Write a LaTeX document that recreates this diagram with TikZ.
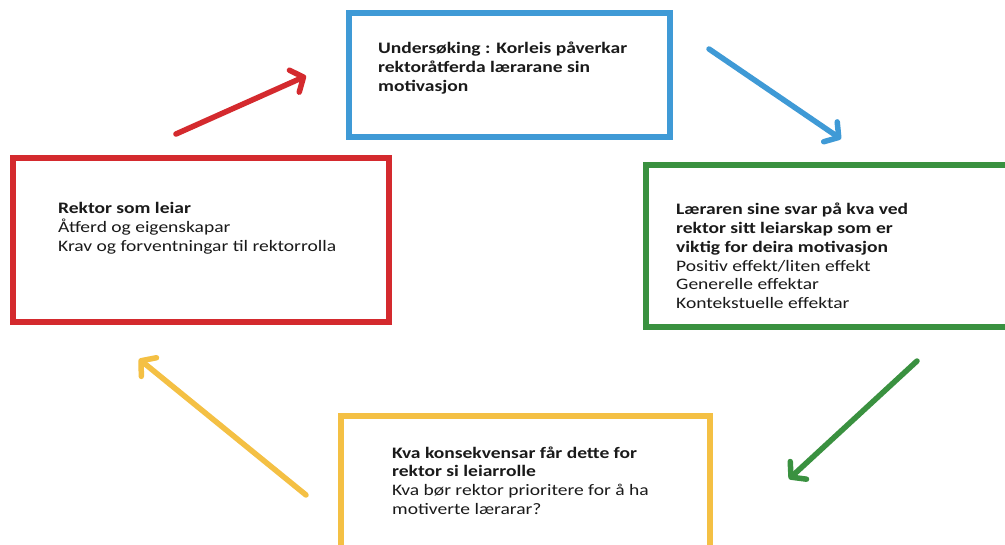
\documentclass[tikz,border=0pt]{standalone}
\usepackage{fontspec}
\setmainfont[FakeStretch=1.22]{Carlito}
\usetikzlibrary{arrows.meta}
\definecolor{cblue}{HTML}{3F9AD6}
\definecolor{cred}{HTML}{D42A2E}
\definecolor{cgreen}{HTML}{3A9140}
\definecolor{cyellow}{HTML}{F4C044}
\definecolor{ctext}{HTML}{1A1A1A}
\begin{document}
\begin{tikzpicture}[x=1pt,y=-1pt,
  framebox/.style={draw=#1, line width=6pt, rectangle, inner sep=0pt},
  boxtext/.style={anchor=base west, inner sep=0pt, align=left, text=ctext,
    font=\fontsize{16}{18.7}\selectfont},
  flow/.style={draw=#1, line width=5.5pt, line cap=round,
    -{Straight Barb[length=10pt, width=24pt, line width=5.5pt, round]}}]
  \clip (0,0) rectangle (1005,545);
  \fill[white] (0,0) rectangle (1005,545);
  % the four frames
  \node[framebox=cblue, minimum width=321pt, minimum height=124pt] (study) at (509.5,75) {};
  \node[framebox=cred, minimum width=376pt, minimum height=164pt] (rektor) at (201,240) {};
  \node[framebox=cgreen, minimum width=380pt, minimum height=162pt] (svar) at (836,246) {};
  \node[framebox=cyellow, minimum width=369pt, minimum height=160pt] (konsekvens) at (525.5,496) {};
  % texts (base anchor sits on the last line)
  \node[boxtext] (studytxt) at (378,91.4) {\textbf{Undersøking : Korleis påverkar}\\\textbf{rektoråtferda lærarane sin}\\\textbf{motivasjon}};
  \node[boxtext] (rektortxt) at (58,251.4) {\textbf{Rektor som leiar}\\Åtferd og eigenskapar\\Krav og forventningar til rektorrolla};
  \node[boxtext] (svartxt) at (676,308.5) {\textbf{Læraren sine svar på kva ved}\\\textbf{rektor sitt leiarskap som er}\\\textbf{viktig for deira motivasjon}\\Positiv effekt/liten effekt\\Generelle effektar\\Kontekstuelle effektar};
  \node[boxtext] (konsekvenstxt) at (392,514.1) {\textbf{Kva konsekvensar får dette for}\\\textbf{rektor si leiarrolle}\\Kva bør rektor prioritere for å ha\\motiverte lærarar?};
  % arrow end points
  \coordinate (r1) at (176,134);
  \coordinate (r2) at (306,76);
  \coordinate (b1) at (709,49);
  \coordinate (b2) at (841,139);
  \coordinate (g1) at (917,361);
  \coordinate (g2) at (789,479);
  \coordinate (y1) at (306,495);
  \coordinate (y2) at (139,359);
  \draw[flow=cred] (r1) -- (r2);
  \draw[flow=cblue] (b1) -- (b2);
  \draw[flow=cgreen] (g1) -- (g2);
  \draw[flow=cyellow] (y1) -- (y2);
\end{tikzpicture}
\end{document}
